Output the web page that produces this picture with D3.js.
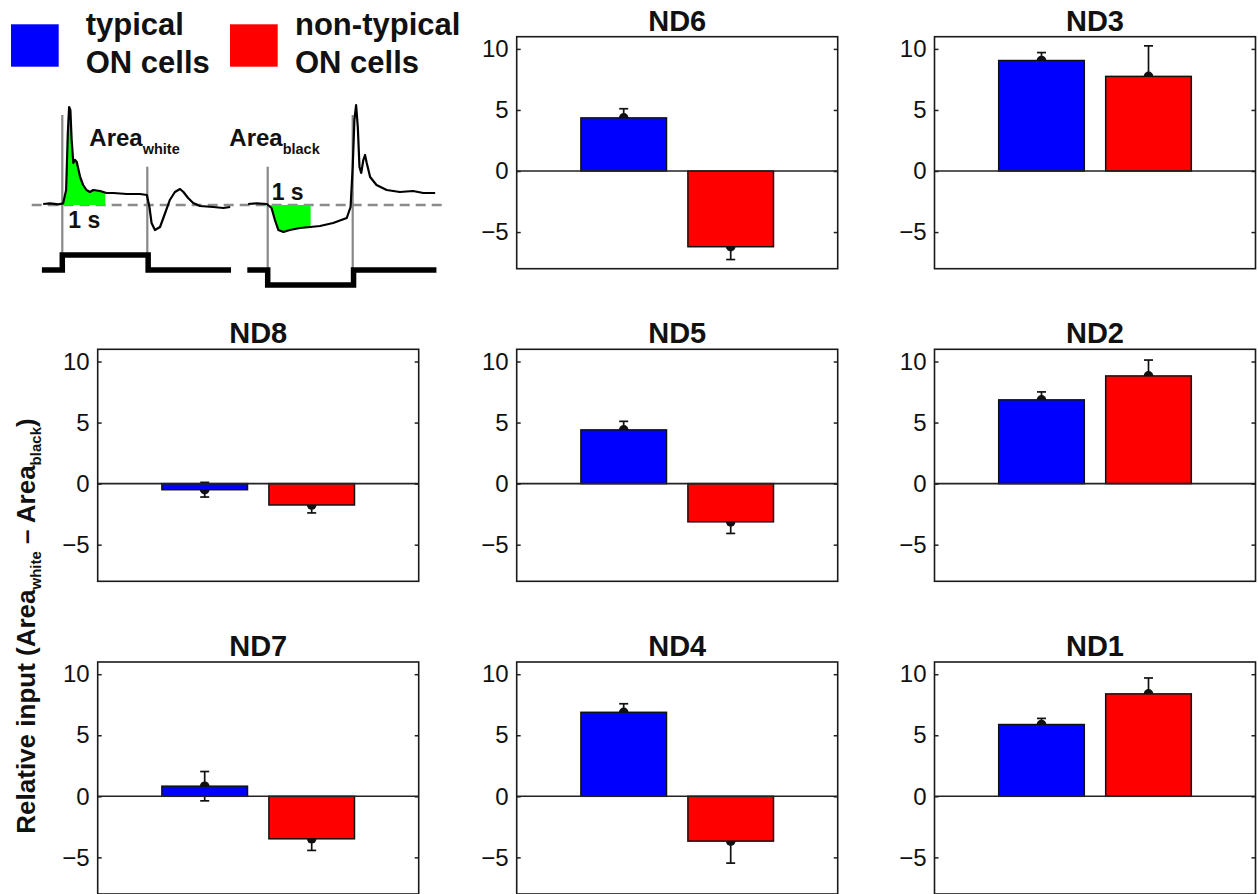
<!DOCTYPE html>
<html>
<head>
<meta charset="utf-8">
<script src="https://cdn.jsdelivr.net/npm/d3@7"></script>
<style>
  body { margin: 0; background: #fff; }
  svg { display: block; font-family: "Liberation Sans", Arial, sans-serif; }
</style>
</head>
<body>
<svg id="chart" width="1258" height="894"></svg>
<script>
// Panel data (one entry per panel)
const panels = ["ND6", "ND3", "ND8", "ND5", "ND2", "ND7", "ND4", "ND1"];
const panelCol = [1, 2, 0, 1, 2, 0, 1, 2];
const panelRow = [0, 0, 1, 1, 1, 2, 2, 2];
const typicalMean = [4.35, 9.05, -0.5, 4.4, 6.86, 0.83, 6.88, 5.88];
const typicalErr = [0.75, 0.65, 0.6, 0.7, 0.65, 1.2, 0.7, 0.5];
const nonTypicalMean = [-6.2, 7.75, -1.75, -3.13, 8.82, -3.48, -3.67, 8.39];
const nonTypicalErr = [1.05, 2.5, 0.65, 0.95, 1.3, 0.95, 1.8, 1.3];
const yTicks = [-5, 0, 5, 10];
const seriesColors = ["#0000ff", "#ff0000"];
const seriesNames = [["typical", "ON cells"], ["non-typical", "ON cells"]];

// Schematic traces (time in s, response in arbitrary units)
const whiteT = [-0.45, -0.29, -0.09, 0.02, 0.09, 0.13, 0.16, 0.19, 0.22, 0.26, 0.30, 0.34, 0.42, 0.49, 0.57, 0.65, 0.73, 0.89, 1.04, 1.2, 1.52, 1.83, 1.99, 2.05, 2.10, 2.18, 2.30, 2.42, 2.53, 2.65, 2.77, 2.85, 2.96, 3.08, 3.24, 3.55, 3.79, 3.95];
const whiteV = [0.1, 0.17, 0.07, 0.17, 1.5, 7.2, 9.8, 9.5, 6.5, 4.2, 4.5, 4.3, 2.8, 2.0, 1.5, 1.3, 1.5, 1.4, 1.2, 1.2, 1.1, 1.1, 1.0, -0.2, -1.8, -2.5, -2.2, -0.8, 0.5, 1.3, 1.6, 1.3, 0.7, 0.2, -0.1, -0.2, -0.3, -0.2];
const blackT = [-0.46, -0.26, -0.02, 0.09, 0.17, 0.25, 0.37, 0.52, 0.76, 1.0, 1.23, 1.54, 1.86, 1.95, 2.0, 2.04, 2.08, 2.12, 2.16, 2.2, 2.25, 2.29, 2.33, 2.41, 2.56, 2.80, 3.11, 3.42, 3.66, 3.94];
const blackV = [0.1, 0.17, 0.1, -0.3, -1.5, -2.5, -2.7, -2.5, -2.3, -2.2, -2.1, -1.8, -1.3, -0.2, 3.8, 8.5, 10.0, 7.8, 3.8, 3.2, 4.5, 5.0, 4.2, 2.8, 2.0, 1.5, 1.3, 1.4, 1.2, 1.2];
const stimT = [-0.48, 0, 2.02, 3.97];
const whiteStim = [0, 1, 0, 0];
const blackStim = [0, -1, 0, 0];

const svg = d3.select("#chart");

// Panel geometry
const colLeft = [97.7, 516.7, 934.5];
const rowTop = [36.7, 349.3, 662];
const pw = 321, ph = 232;

const x = d3.scaleLinear().domain([0, 3]).range([0, pw]);
const y = d3.scaleLinear().domain([-8, 11]).range([ph, 0]);
const barW = x(0.8) - x(0);

panels.forEach((name, i) => {
  const g = svg.append("g")
    .attr("transform", `translate(${colLeft[panelCol[i]]},${rowTop[panelRow[i]]})`);

  const bars = [
    { pos: 1, mean: typicalMean[i], err: typicalErr[i], color: seriesColors[0] },
    { pos: 2, mean: nonTypicalMean[i], err: nonTypicalErr[i], color: seriesColors[1] }
  ];

  // Error bars (drawn under the bars, as in the figure)
  bars.forEach(d => {
    const cx = x(d.pos);
    g.append("line")
      .attr("x1", cx).attr("x2", cx)
      .attr("y1", y(d.mean - d.err)).attr("y2", y(d.mean + d.err))
      .attr("stroke", "#111").attr("stroke-width", 1.7);
    [d.mean - d.err, d.mean + d.err].forEach(v => {
      g.append("line")
        .attr("x1", cx - 4.5).attr("x2", cx + 4.5)
        .attr("y1", y(v)).attr("y2", y(v))
        .attr("stroke", "#111").attr("stroke-width", 1.7);
    });
    g.append("circle")
      .attr("cx", cx).attr("cy", y(d.mean)).attr("r", 4.8)
      .attr("fill", "#111");
  });

  g.selectAll("rect.bar")
    .data(bars)
    .enter().append("rect")
    .attr("class", "bar")
    .attr("x", d => x(d.pos) - barW / 2)
    .attr("y", d => y(Math.max(0, d.mean)))
    .attr("width", barW)
    .attr("height", d => Math.abs(y(d.mean) - y(0)))
    .attr("fill", d => d.color)
    .attr("stroke", "#111")
    .attr("stroke-width", 1.5);

  // zero line
  g.append("line")
    .attr("x1", 0).attr("x2", pw)
    .attr("y1", y(0)).attr("y2", y(0))
    .attr("stroke", "#222").attr("stroke-width", 1.6);

  // inward ticks on both sides
  const left = d3.axisLeft(y).tickValues(yTicks).tickSizeInner(-4).tickSizeOuter(0).tickPadding(8);
  const right = d3.axisRight(y).tickValues(yTicks).tickSizeInner(-4).tickSizeOuter(0).tickFormat("");
  const la = g.append("g").call(left);
  la.select(".domain").remove();
  la.selectAll("line").attr("stroke", "#222").attr("stroke-width", 1.5);
  la.selectAll("text")
    .attr("font-size", 24)
    .attr("fill", "#111")
    .attr("font-family", "'Liberation Sans', Arial, sans-serif");
  const ra = g.append("g").attr("transform", `translate(${pw},0)`).call(right);
  ra.select(".domain").remove();
  ra.selectAll("line").attr("stroke", "#222").attr("stroke-width", 1.5);

  g.append("rect")
    .attr("width", pw).attr("height", ph)
    .attr("fill", "none")
    .attr("stroke", "#1a1a1a")
    .attr("stroke-width", 1.6);

  g.append("text")
    .attr("x", pw / 2).attr("y", -6)
    .attr("text-anchor", "middle")
    .attr("font-size", 29)
    .attr("font-weight", "bold")
    .attr("fill", "#111")
    .text(name);
});

// Y axis label
const yl = svg.append("text")
  .attr("transform", "translate(35,626) rotate(-90)")
  .attr("text-anchor", "middle")
  .attr("font-size", 26)
  .attr("font-weight", "bold")
  .attr("fill", "#111");
yl.append("tspan").text("Relative input (Area");
yl.append("tspan").attr("font-size", 15).attr("dy", 6).text("white");
yl.append("tspan").attr("dy", -6).text(" \u2013 Area");
yl.append("tspan").attr("font-size", 15).attr("dy", 6).text("black");
yl.append("tspan").attr("dy", -6).text(")");

// Legend
const legX = [11, 230];
const legTextX = [85.7, 295];
seriesColors.forEach((c, i) => {
  svg.append("rect")
    .attr("x", legX[i]).attr("y", 24.3)
    .attr("width", 47.7).attr("height", 42.4)
    .attr("fill", c);
  seriesNames[i].forEach((line, j) => {
    svg.append("text")
      .attr("x", legTextX[i]).attr("y", 35 + j * 38.3)
      .attr("font-size", 31)
      .attr("font-weight", "bold")
      .attr("fill", "#111")
      .text(line);
  });
});

// Schematic of the response measure
const sy = d3.scaleLinear().domain([0, 1]).range([205, 195]);
const stimY = d3.scaleLinear().domain([0, 1]).range([270, 255]);
const schem = [
  { t0: 62.3, T: whiteT, V: whiteV, stim: whiteStim, fillFrom: 0, marks: [[0, 115, 253], [2, 166.7, 253]] },
  { t0: 267.7, T: blackT, V: blackV, stim: blackStim, fillFrom: 0.03, marks: [[0, 166.7, 268], [2, 115, 268]] }
];

// dashed baseline
svg.append("line")
  .attr("x1", 31.7).attr("x2", 446.7)
  .attr("y1", sy(0)).attr("y2", sy(0))
  .attr("stroke", "#8c8c8c").attr("stroke-width", 2.4)
  .attr("stroke-dasharray", "10,6");

schem.forEach((s, k) => {
  const sx = d3.scaleLinear().domain([0, 1]).range([s.t0, s.t0 + 42.5]);
  const pts = s.T.map((t, i) => [t, s.V[i]]);

  svg.append("clipPath").attr("id", "clip" + k)
    .append("rect")
    .attr("x", sx(s.fillFrom)).attr("y", 0)
    .attr("width", sx(1.01) - sx(s.fillFrom)).attr("height", 894);

  svg.append("path")
    .datum(pts)
    .attr("clip-path", `url(#clip${k})`)
    .attr("fill", "#00ff00")
    .attr("d", d3.area().x(d => sx(d[0])).y0(sy(0)).y1(d => sy(d[1])));

  s.marks.forEach(m => {
    svg.append("line")
      .attr("x1", sx(m[0])).attr("x2", sx(m[0]))
      .attr("y1", m[1]).attr("y2", m[2])
      .attr("stroke", "#888").attr("stroke-width", 2.2);
  });

  svg.append("path")
    .datum(pts)
    .attr("fill", "none")
    .attr("stroke", "#000")
    .attr("stroke-width", 2.2)
    .attr("stroke-linejoin", "round")
    .attr("d", d3.line().x(d => sx(d[0])).y(d => sy(d[1])));

  svg.append("path")
    .datum(stimT.map((t, i) => [t, s.stim[i]]))
    .attr("fill", "none")
    .attr("stroke", "#000")
    .attr("stroke-width", 5.5)
    .attr("d", d3.line().curve(d3.curveStepAfter).x(d => sx(d[0])).y(d => stimY(d[1])));
});

// Schematic labels
function areaLabel(xp, sub) {
  const t = svg.append("text")
    .attr("x", xp).attr("y", 146)
    .attr("font-size", 24).attr("font-weight", "bold").attr("fill", "#111");
  t.append("tspan").text("Area");
  t.append("tspan").attr("font-size", 14.5).attr("dy", 8).text(sub);
}
areaLabel(89.3, "white");
areaLabel(229.3, "black");

svg.append("text").attr("x", 68.3).attr("y", 228.3)
  .attr("font-size", 23).attr("font-weight", "bold").attr("fill", "#111").text("1 s");
svg.append("text").attr("x", 271.7).attr("y", 200)
  .attr("font-size", 23).attr("font-weight", "bold").attr("fill", "#111").text("1 s");
</script>
</body>
</html>
